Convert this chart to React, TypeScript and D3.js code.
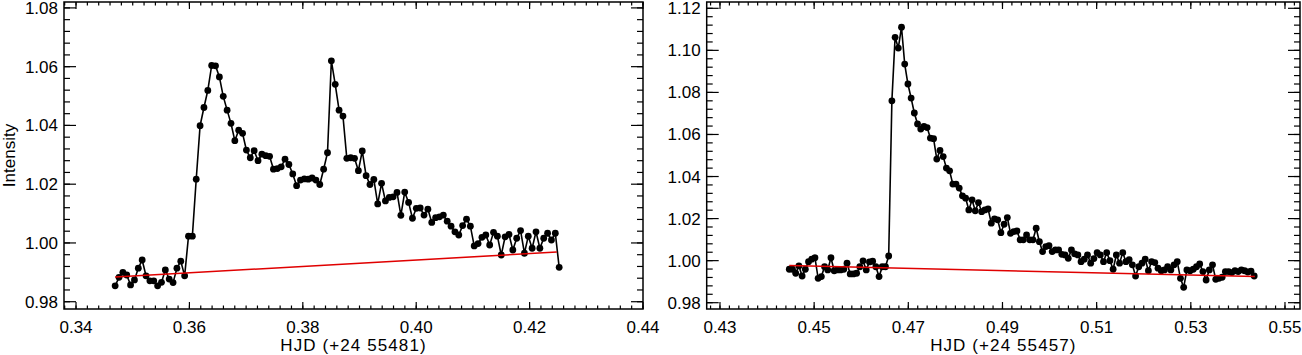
import React, { useRef, useEffect } from "react";
import * as d3 from "d3";

// Kepler short cadence (days)
const cadence = 0.000681;

// left panel: flare at HJD 2455481
const leftStart = 0.3469;
const leftIntensity = [
  0.9854, 0.9883, 0.9900, 0.9891, 0.9857, 0.9874, 0.9914, 0.9942, 0.9888, 0.9871,
  0.9871, 0.9854, 0.9866, 0.9908, 0.9877, 0.9865, 0.9914, 0.9938, 0.9888, 1.0023,
  1.0023, 1.0217, 1.0399, 1.0461, 1.0519, 1.0604, 1.0603, 1.0565, 1.0499, 1.0452,
  1.0407, 1.0348, 1.0384, 1.0373, 1.0316, 1.0290, 1.0314, 1.0280, 1.0302, 1.0297,
  1.0295, 1.0251, 1.0253, 1.0259, 1.0285, 1.0267, 1.0235, 1.0195, 1.0214, 1.0218,
  1.0217, 1.0221, 1.0214, 1.0199, 1.0251, 1.0307, 1.0620, 1.0540, 1.0452, 1.0432,
  1.0288, 1.0290, 1.0288, 1.0246, 1.0313, 1.0229, 1.0199, 1.0216, 1.0133, 1.0203,
  1.0143, 1.0155, 1.0157, 1.0172, 1.0094, 1.0173, 1.0138, 1.0084, 1.0118, 1.0119,
  1.0095, 1.0115, 1.0070, 1.0086, 1.0089, 1.0095, 1.0074, 1.0057, 1.0038, 1.0027,
  1.0059, 1.0081, 1.0057, 0.9990, 0.9998, 1.0019, 1.0027, 0.9993, 1.0036, 1.0023,
  0.9959, 1.0021, 1.0029, 0.9976, 1.0016, 1.0042, 0.9965, 1.0023, 0.9982, 1.0038,
  0.9982, 1.0016, 1.0033, 1.0010, 1.0033, 0.9917,
];
const leftBaseline = [
  [0.3469, 0.9884],
  [0.4248, 0.9969],
];
const leftXTicks = [0.34, 0.36, 0.38, 0.4, 0.42, 0.44];
const leftYTicks = [0.98, 1.0, 1.02, 1.04, 1.06, 1.08];

// right panel: flare at HJD 2455457
const rightStart = 0.44472;
const rightIntensity = [
  0.9959, 0.9959, 0.9940, 0.9975, 0.9927, 0.9959, 0.9995, 1.0007, 1.0014, 0.9916,
  0.9924, 0.9971, 0.9956, 1.0014, 0.9952, 0.9956, 0.9956, 0.9959, 0.9988, 0.9937,
  0.9937, 0.9940, 0.9971, 0.9999, 0.9956, 0.9994, 0.9997, 0.9971, 0.9924, 0.9971,
  0.9971, 1.0022,
  1.0760, 1.1062, 1.1011, 1.1110, 1.0935, 1.0840, 1.0773, 1.0702, 1.0650, 1.0626,
  1.0638, 1.0633, 1.0583, 1.0580, 1.0483, 1.0524, 1.0495, 1.0440, 1.0427, 1.0364,
  1.0364, 1.0345, 1.0308, 1.0297, 1.0241, 1.0289, 1.0237, 1.0276,
  1.0233, 1.0241, 1.0246, 1.0178, 1.0199, 1.0194, 1.0133, 1.0173, 1.0205, 1.0130,
  1.0138, 1.0141, 1.0099, 1.0099, 1.0122, 1.0099, 1.0099, 1.0154, 1.0090, 1.0043,
  1.0067, 1.0071, 1.0043, 1.0051, 1.0051, 1.0030, 1.0027, 1.0011, 1.0051,
  1.0032, 1.0027, 0.9995, 1.0007, 1.0027, 0.9988, 1.0010, 1.0038, 1.0027, 0.9995,
  1.0038, 1.0000, 0.9959, 1.0027, 0.9988, 1.0038, 0.9995, 1.0005, 0.9980, 0.9927,
  0.9971, 0.9988, 1.0007, 0.9952, 0.9995, 0.9991, 0.9964, 0.9952, 0.9956, 0.9971,
  0.9956, 0.9980, 0.9995, 0.9916, 0.9873, 0.9956, 0.9952, 0.9959, 0.9971, 0.9984,
  0.9948, 0.9908, 0.9956, 0.9980, 0.9911, 0.9916, 0.9921, 0.9948, 0.9948, 0.9943,
  0.9952, 0.9948, 0.9956, 0.9952, 0.9946, 0.9950, 0.9927,
];
const rightBaseline = [
  [0.44472, 0.9977],
  [0.5436, 0.9924],
];
const rightXTicks = [0.43, 0.45, 0.47, 0.49, 0.51, 0.53, 0.55];
const rightYTicks = [0.98, 1.0, 1.02, 1.04, 1.06, 1.08, 1.1, 1.12];

const FONT = "'Liberation Sans', Arial, Helvetica, sans-serif";

const panels = [
  {
    box: { left: 64, right: 643, top: 2, bottom: 309 },
    xDomain: [0.33788, 0.44], yDomain: [0.97752, 1.08201],
    start: leftStart, values: leftIntensity, fit: leftBaseline,
    xTicks: leftXTicks, yTicks: leftYTicks,
    xLabel: "HJD (+24 55481)", yLabel: "Intensity",
  },
  {
    box: { left: 706.7, right: 1300, top: 2, bottom: 309 },
    xDomain: [0.42718, 0.55319], yDomain: [0.977, 1.123],
    start: rightStart, values: rightIntensity, fit: rightBaseline,
    xTicks: rightXTicks, yTicks: rightYTicks,
    xLabel: "HJD (+24 55457)", yLabel: null,
  },
];

const minorRange = (lo, hi, step) =>
  d3.range(Math.ceil(lo / step - 1e-6), Math.floor(hi / step + 1e-6) + 1).map(i => i * step);

const App = () => {
  const ref = useRef(null);

  useEffect(() => {
    const svg = d3.select(ref.current);
    svg.selectAll("*").remove();

    panels.forEach(p => {
      const { left, right, top, bottom } = p.box;
      const x = d3.scaleLinear().domain(p.xDomain).range([left, right]);
      const y = d3.scaleLinear().domain(p.yDomain).range([bottom, top]);
      const g = svg.append("g");

      const pts = p.values.map((v, i) => [p.start + i * cadence, v]);

      // ticks on all four sides, pointing inward
      const ticks = g.append("g").attr("stroke", "#000").attr("stroke-width", 1.2);
      const drawX = (vals, len) => vals.forEach(t => {
        ticks.append("line").attr("x1", x(t)).attr("x2", x(t)).attr("y1", bottom).attr("y2", bottom - len);
        ticks.append("line").attr("x1", x(t)).attr("x2", x(t)).attr("y1", top).attr("y2", top + len);
      });
      const drawY = (vals, len) => vals.forEach(t => {
        ticks.append("line").attr("y1", y(t)).attr("y2", y(t)).attr("x1", left).attr("x2", left + len);
        ticks.append("line").attr("y1", y(t)).attr("y2", y(t)).attr("x1", right).attr("x2", right - len);
      });
      drawX(minorRange(p.xDomain[0], p.xDomain[1], 0.002), 3.5);
      drawX(p.xTicks, 7);
      drawY(minorRange(p.yDomain[0], p.yDomain[1], 0.004), 6);
      drawY(p.yTicks, 12);

      g.append("rect")
        .attr("x", left).attr("y", top)
        .attr("width", right - left).attr("height", bottom - top)
        .attr("fill", "none").attr("stroke", "#000").attr("stroke-width", 1.5);

      const fmt = d3.format(".2f");
      g.selectAll(".xt").data(p.xTicks).join("text")
        .attr("x", d => x(d)).attr("y", 333)
        .attr("text-anchor", "middle")
        .attr("font-family", FONT).attr("font-size", 17)
        .text(d => fmt(d));
      g.selectAll(".yt").data(p.yTicks).join("text")
        .attr("x", left - 6).attr("y", d => y(d) + 6)
        .attr("text-anchor", "end")
        .attr("font-family", FONT).attr("font-size", 17)
        .text(d => fmt(d));

      g.append("text")
        .attr("x", (left + right) / 2).attr("y", 351)
        .attr("text-anchor", "middle")
        .attr("font-family", FONT).attr("font-size", 17)
        .attr("letter-spacing", 1.1)
        .text(p.xLabel);
      if (p.yLabel) {
        g.append("text")
          .attr("transform", `translate(15,${(top + bottom) / 2}) rotate(-90)`)
          .attr("text-anchor", "middle")
          .attr("font-family", FONT).attr("font-size", 17)
          .text(p.yLabel);
      }

      const line = d3.line().x(d => x(d[0])).y(d => y(d[1]));
      g.append("path").attr("d", line(pts))
        .attr("fill", "none").attr("stroke", "#000").attr("stroke-width", 1.6);
      g.selectAll(".pt").data(pts).join("circle")
        .attr("cx", d => x(d[0])).attr("cy", d => y(d[1]))
        .attr("r", 3.4).attr("fill", "#000");
      g.append("path").attr("d", line(p.fit))
        .attr("fill", "none").attr("stroke", "#e00000").attr("stroke-width", 1.5);
    });
  }, []);

  return (
    <svg ref={ref} width={1302} height={355}
      style={{ position: "absolute", left: 0, top: 0, background: "#fff" }} />
  );
};

export default App;
